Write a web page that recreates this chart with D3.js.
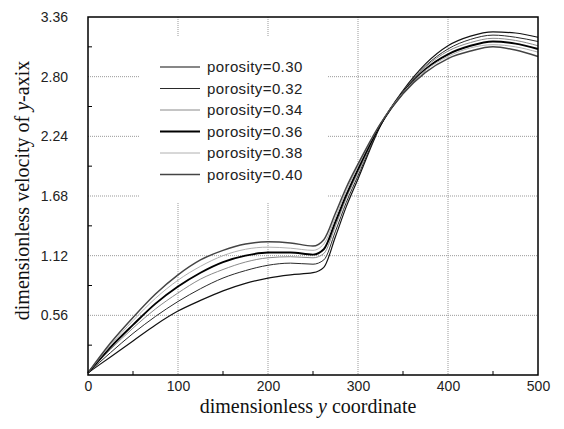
<!DOCTYPE html>
<html>
<head>
<meta charset="utf-8">
<script src="https://cdn.jsdelivr.net/npm/d3@7"></script>
<style>
  body { margin: 0; background: #fff; }
  svg { display: block; }
</style>
</head>
<body>
<div id="plot"></div>
<script>
// ---- data ----
var xValues = [0, 25, 50, 75, 100, 125, 150, 175, 200, 225, 250, 262, 275, 287, 300, 325, 350, 375, 400, 425, 450, 475, 500];
var p30 = [0.02, 0.17, 0.32, 0.47, 0.60, 0.70, 0.79, 0.86, 0.91, 0.94, 0.96, 1.01, 1.30, 1.58, 1.84, 2.34, 2.67, 2.92, 3.09, 3.18, 3.22, 3.21, 3.17];
var p32 = [0.02, 0.21, 0.39, 0.55, 0.69, 0.81, 0.91, 0.98, 1.03, 1.05, 1.04, 1.08, 1.35, 1.62, 1.87, 2.34, 2.66, 2.90, 3.06, 3.15, 3.19, 3.17, 3.13];
var p34 = [0.02, 0.24, 0.44, 0.62, 0.77, 0.90, 0.99, 1.06, 1.10, 1.11, 1.10, 1.14, 1.40, 1.66, 1.90, 2.35, 2.66, 2.89, 3.04, 3.12, 3.16, 3.14, 3.09];
var p36 = [0.02, 0.26, 0.47, 0.67, 0.83, 0.96, 1.06, 1.12, 1.15, 1.15, 1.13, 1.18, 1.44, 1.69, 1.93, 2.35, 2.65, 2.87, 3.01, 3.09, 3.13, 3.11, 3.06];
var p38 = [0.02, 0.28, 0.51, 0.72, 0.89, 1.02, 1.12, 1.18, 1.20, 1.19, 1.17, 1.23, 1.48, 1.73, 1.96, 2.36, 2.65, 2.86, 2.99, 3.07, 3.10, 3.08, 3.03];
var p40 = [0.02, 0.30, 0.54, 0.76, 0.94, 1.08, 1.17, 1.23, 1.25, 1.24, 1.21, 1.27, 1.52, 1.76, 1.98, 2.36, 2.64, 2.84, 2.97, 3.04, 3.08, 3.05, 2.99];
var seriesNames = ["porosity=0.30", "porosity=0.32", "porosity=0.34", "porosity=0.36", "porosity=0.38", "porosity=0.40"];
var xTicks = [0, 100, 200, 300, 400, 500];
var yTicks = [0.56, 1.12, 1.68, 2.24, 2.80, 3.36];

var seriesValues = [p30, p32, p34, p36, p38, p40];
// line looks per series (colour, width)
var lineColors = ["#111", "#2a2a2a", "#8a8a8a", "#000", "#b0b0b0", "#444"];
var lineWidths = [1.2, 1, 1, 1.9, 1, 1.5];

// ---- workspace ----
var svgWidth = 564, svgHeight = 429;
var margin = { top: 17, right: 26, bottom: 54, left: 88 };
var width = svgWidth - margin.left - margin.right;
var height = svgHeight - margin.top - margin.bottom;

var svg = d3.select("#plot").append("svg")
    .attr("width", svgWidth)
    .attr("height", svgHeight);

var chartGroup = svg.append("g")
    .attr("transform", `translate(${margin.left}, ${margin.top})`);

var xScale = d3.scaleLinear().domain([0, 500]).range([0, width]);
var yScale = d3.scaleLinear().domain([0, 3.36]).range([height, 0]);

// grid lines
chartGroup.append("g")
    .selectAll("line")
    .data([100, 200, 300, 400])
    .enter().append("line")
    .attr("x1", d => xScale(d)).attr("x2", d => xScale(d))
    .attr("y1", 0).attr("y2", height)
    .attr("stroke", "#999").attr("stroke-width", 1)
    .attr("stroke-dasharray", "1,1");

chartGroup.append("g")
    .selectAll("line")
    .data(yTicks.slice(0, 5))
    .enter().append("line")
    .attr("x1", 0).attr("x2", width)
    .attr("y1", d => yScale(d)).attr("y2", d => yScale(d))
    .attr("stroke", "#999").attr("stroke-width", 1)
    .attr("stroke-dasharray", "1,1");

// minor ticks (inward)
var xMinor = [50, 150, 250, 350, 450];
chartGroup.append("g").selectAll("line")
    .data(xMinor).enter().append("line")
    .attr("x1", d => xScale(d)).attr("x2", d => xScale(d))
    .attr("y1", height).attr("y2", height - 4)
    .attr("stroke", "#000");
var yMinor = [0.28, 0.84, 1.40, 1.96, 2.52, 3.08];
chartGroup.append("g").selectAll("line")
    .data(yMinor).enter().append("line")
    .attr("x1", 0).attr("x2", 4)
    .attr("y1", d => yScale(d)).attr("y2", d => yScale(d))
    .attr("stroke", "#000");

// axes (labels only, ticks drawn as grid)
var bottomAxis = d3.axisBottom(xScale).tickValues(xTicks).tickSize(0).tickPadding(6);
var leftAxis = d3.axisLeft(yScale).tickValues(yTicks).tickFormat(d3.format(".2f")).tickSize(0).tickPadding(20);

var gx = chartGroup.append("g")
    .attr("transform", `translate(0, ${height})`)
    .call(bottomAxis);
var gy = chartGroup.append("g").call(leftAxis);
[gx, gy].forEach(g => {
    g.select(".domain").remove();
    g.selectAll("text")
        .attr("font-family", "'Liberation Sans', Arial, sans-serif")
        .attr("font-size", "14px")
        .attr("fill", "#222");
});

// legend box (white, hides the grid behind it)
var legend = chartGroup.append("g");
legend.append("rect")
    .attr("x", 140 - margin.left).attr("y", 36 - margin.top)
    .attr("width", 187).attr("height", 167)
    .attr("fill", "#fff");

// the curves
var line = d3.line()
    .x((d, i) => xScale(xValues[i]))
    .y(d => yScale(d))
    .curve(d3.curveMonotoneX);

chartGroup.append("g")
    .selectAll("path")
    .data(seriesValues)
    .enter().append("path")
    .attr("d", d => line(d))
    .attr("fill", "none")
    .attr("stroke", (d, i) => lineColors[i])
    .attr("stroke-width", (d, i) => lineWidths[i]);

// legend entries
var rows = legend.selectAll("g.row")
    .data(seriesNames)
    .enter().append("g")
    .attr("transform", (d, i) => `translate(${160 - margin.left}, ${67 - margin.top + i * 21.5})`);
rows.append("line")
    .attr("x1", 0).attr("x2", 40)
    .attr("stroke", (d, i) => lineColors[i])
    .attr("stroke-width", (d, i) => lineWidths[i]);
rows.append("text")
    .attr("x", 47).attr("y", 5)
    .attr("font-family", "'Liberation Sans', Arial, sans-serif")
    .attr("font-size", "15px")
    .attr("letter-spacing", "0.4px")
    .attr("fill", "#222")
    .text(d => d);

// frame
chartGroup.append("rect")
    .attr("width", width).attr("height", height)
    .attr("fill", "none").attr("stroke", "#000").attr("stroke-width", 1.5);

// X axis title
var xTitle = chartGroup.append("text")
    .attr("x", 220).attr("y", height + 38)
    .attr("text-anchor", "middle")
    .attr("font-family", "'Liberation Serif', 'Times New Roman', serif")
    .attr("font-size", "20px")
    .attr("fill", "#111");
xTitle.append("tspan").text("dimensionless ");
xTitle.append("tspan").attr("font-style", "italic").text("y");
xTitle.append("tspan").text(" coordinate");

// Y axis title
var yTitle = chartGroup.append("text")
    .attr("transform", "rotate(-90)")
    .attr("x", -(190.5 - margin.top)).attr("y", 29 - margin.left)
    .attr("text-anchor", "middle")
    .attr("font-family", "'Liberation Serif', 'Times New Roman', serif")
    .attr("font-size", "20px")
    .attr("fill", "#111");
yTitle.append("tspan").text("dimensionless velocity of ");
yTitle.append("tspan").attr("font-style", "italic").text("y");
yTitle.append("tspan").text("-axix");
</script>
</body>
</html>
